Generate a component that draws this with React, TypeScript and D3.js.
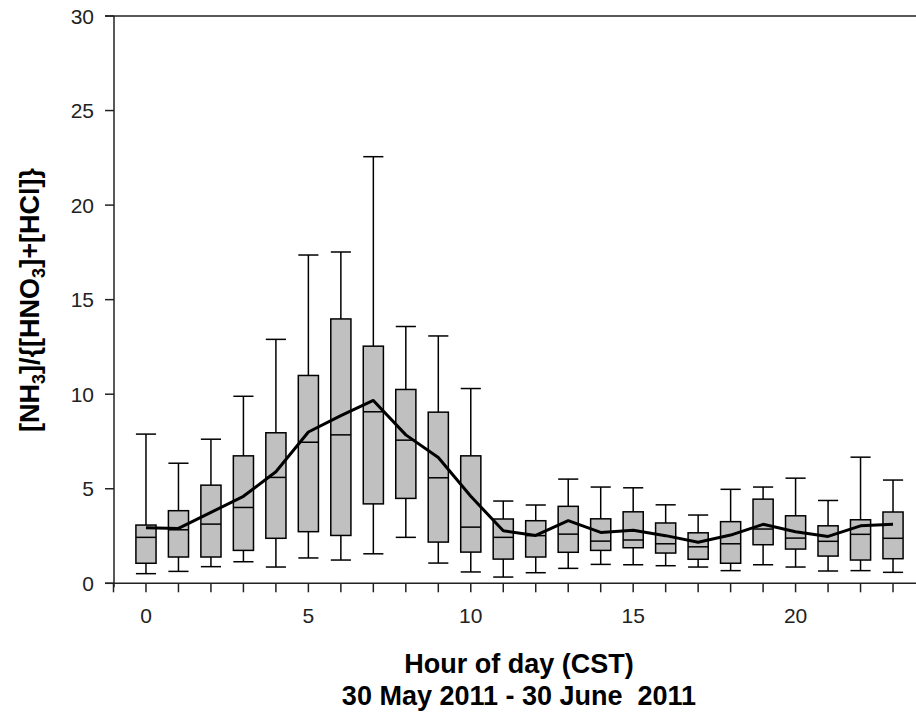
import React from 'react';
import * as d3 from 'd3';

// hourly distribution of [NH3]/{[HNO3]+[HCl]}
const hours = [0, 1, 2, 3, 4, 5, 6, 7, 8, 9, 10, 11, 12, 13, 14, 15, 16, 17, 18, 19, 20, 21, 22, 23];
const whiskerHigh = [7.89, 6.35, 7.62, 9.89, 12.9, 17.36, 17.52, 22.56, 13.58, 13.08, 10.3, 4.35, 4.14, 5.51, 5.09, 5.05, 4.15, 3.61, 4.97, 5.09, 5.56, 4.38, 6.67, 5.46];
const q3 = [3.08, 3.84, 5.19, 6.74, 7.96, 10.99, 13.98, 12.54, 10.25, 9.05, 6.74, 3.4, 3.31, 4.07, 3.41, 3.78, 3.19, 2.67, 3.26, 4.45, 3.57, 3.04, 3.36, 3.77];
const median = [2.43, 2.83, 3.13, 4.01, 5.6, 7.46, 7.85, 9.07, 7.57, 5.58, 2.97, 2.43, 2.52, 2.6, 2.23, 2.29, 2.09, 1.93, 2.09, 2.87, 2.39, 2.22, 2.59, 2.38];
const q1 = [1.06, 1.39, 1.39, 1.74, 2.38, 2.73, 2.53, 4.2, 4.49, 2.18, 1.65, 1.28, 1.39, 1.64, 1.74, 1.88, 1.6, 1.27, 1.06, 2.04, 1.81, 1.44, 1.23, 1.3];
const whiskerLow = [0.51, 0.63, 0.88, 1.14, 0.86, 1.34, 1.23, 1.56, 2.43, 1.07, 0.6, 0.33, 0.56, 0.79, 1.0, 0.98, 0.93, 0.86, 0.67, 0.98, 0.86, 0.65, 0.67, 0.58];
const mean = [2.94, 2.9, 3.75, 4.6, 5.9, 8.0, 8.87, 9.67, 7.85, 6.65, 4.6, 2.78, 2.53, 3.31, 2.69, 2.8, 2.52, 2.17, 2.55, 3.12, 2.73, 2.48, 3.04, 3.12];

const xTickValues = d3.range(-1, 25);
const xTickLabels = [0, 5, 10, 15, 20];
const yTickValues = [0, 5, 10, 15, 20, 25, 30];

const W = 916;
const H = 715;
const FONT = '"Liberation Sans", Arial, Helvetica, sans-serif';

const App: React.FC = () => {
  const x = d3.scaleLinear().domain([-1, 24]).range([113.5, 925.5]);
  const y = d3.scaleLinear().domain([0, 30]).range([583.3, 16]);
  const bw = (x(1) - x(0)) * 0.62;
  const x0 = x(-1);
  const y0 = y(0);

  const meanLine = d3
    .line<number>()
    .x((_, i) => x(hours[i]))
    .y((d) => y(d));

  return (
    <svg
      width={W}
      height={H}
      style={{ position: 'absolute', left: 0, top: 0, background: '#fff' }}
      fontFamily={FONT}
    >
      {/* boxes */}
      {hours.map((h, i) => {
        const cx = x(h);
        return (
          <g key={h} stroke="#000" strokeWidth={1.5}>
            <line x1={cx} x2={cx} y1={y(whiskerHigh[i])} y2={y(q3[i])} />
            <line x1={cx} x2={cx} y1={y(q1[i])} y2={y(whiskerLow[i])} />
            <line x1={cx - bw / 2} x2={cx + bw / 2} y1={y(whiskerHigh[i])} y2={y(whiskerHigh[i])} />
            <line x1={cx - bw / 2} x2={cx + bw / 2} y1={y(whiskerLow[i])} y2={y(whiskerLow[i])} />
            <rect
              x={cx - bw / 2}
              y={y(q3[i])}
              width={bw}
              height={y(q1[i]) - y(q3[i])}
              fill="#c0c0c0"
            />
            <line x1={cx - bw / 2} x2={cx + bw / 2} y1={y(median[i])} y2={y(median[i])} />
          </g>
        );
      })}

      {/* mean line */}
      <path d={meanLine(mean) || ''} fill="none" stroke="#000" strokeWidth={3} strokeLinejoin="round" />

      {/* y axis */}
      <line x1={114} x2={114} y1={y(30)} y2={y0 + 4} stroke="#222" strokeWidth={1.5} />
      <line x1={105} x2={W} y1={y(30)} y2={y(30)} stroke="#222" strokeWidth={1.5} />
      {yTickValues.map((v) => (
        <g key={v}>
          <line x1={105} x2={114} y1={y(v)} y2={y(v)} stroke="#222" strokeWidth={1.5} />
          <text x={94} y={y(v)} dy="0.36em" textAnchor="end" fontSize={21} fill="#222">
            {v}
          </text>
        </g>
      ))}

      {/* x axis */}
      <line x1={105} x2={W} y1={y0} y2={y0} stroke="#222" strokeWidth={1.5} />
      {xTickValues.map((v) => (
        <line key={v} x1={x(v)} x2={x(v)} y1={y0} y2={y0 + 9} stroke="#222" strokeWidth={1.5} />
      ))}
      {xTickLabels.map((v) => (
        <text key={v} x={x(v)} y={623} textAnchor="middle" fontSize={21} fill="#222">
          {v}
        </text>
      ))}

      {/* titles */}
      <text x={519} y={673} textAnchor="middle" fontSize={27} fontWeight="bold" fill="#000">
        Hour of day (CST)
      </text>
      <text
        x={519}
        y={705}
        textAnchor="middle"
        fontSize={27}
        fontWeight="bold"
        fill="#000"
        style={{ whiteSpace: 'pre' }}
      >
        {'30 May 2011 - 30 June  2011'}
      </text>
      <text
        transform="translate(39,300) rotate(-90)"
        textAnchor="middle"
        fontSize={27}
        fontWeight="bold"
        fill="#000"
      >
        <tspan>[NH</tspan>
        <tspan dy={6} fontSize={18}>3</tspan>
        <tspan dy={-6}>]/{'{'}[HNO</tspan>
        <tspan dy={6} fontSize={18}>3</tspan>
        <tspan dy={-6}>]+[HCl]{'}'}</tspan>
      </text>
    </svg>
  );
};

export default App;
